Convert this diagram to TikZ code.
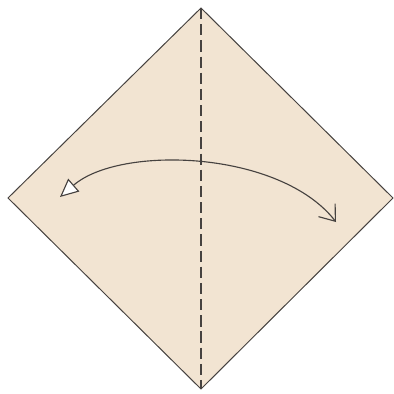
\documentclass[tikz,border=0pt]{standalone}
\usepackage{tikz}
\usetikzlibrary{arrows.meta}
\definecolor{paper}{RGB}{242,228,210}
\definecolor{ink}{RGB}{70,66,64}

\begin{document}
\begin{tikzpicture}[
  x=0.025cm,y=-0.025cm,
  sheet/.style={draw=ink,fill=paper,line width=0.7pt,line join=miter},
  valley/.style={draw=ink,line width=0.8pt,dash pattern=on 8pt off 3.5pt},
  swing/.style={draw=ink,line width=0.8pt,
    {Triangle[length=13pt,width=12pt,fill=white]}-{Straight Barb[length=10pt,width=15pt]}},
]
  \useasboundingbox (0,0) rectangle (394,394);
  % the square, turned on its corner
  \coordinate (top) at (201,8);
  \coordinate (right) at (393,198);
  \coordinate (bot) at (201,389);
  \coordinate (left) at (8,198);
  \draw[sheet] (top) -- (right) -- (bot) -- (left) -- cycle;
  % fold line
  \draw[valley] (top) -- (bot);
  % fold and unfold
  \coordinate (from) at (60,197);
  \coordinate (to) at (336,222);
  \draw[swing] (from) .. controls (120,145) and (280,150) .. (to);
\end{tikzpicture}
\end{document}
